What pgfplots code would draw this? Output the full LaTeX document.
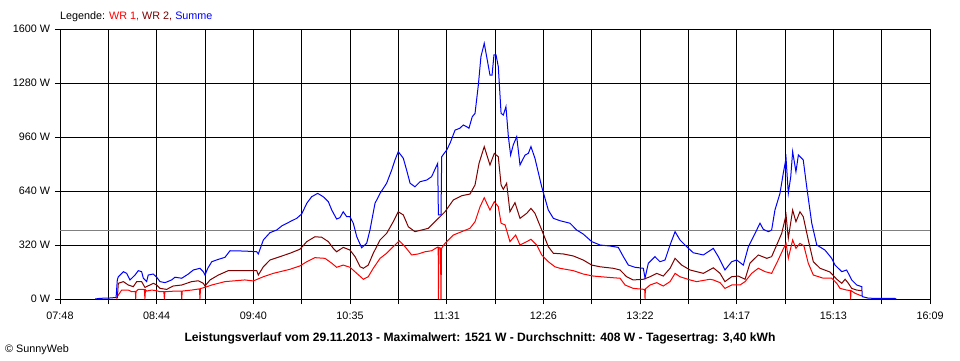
\documentclass[border=0pt]{standalone}
\usepackage{pgfplots}
\pgfplotsset{compat=1.18}
\usepackage{fontspec}
\setmainfont{Liberation Sans}
\definecolor{wrone}{RGB}{255,0,0}
\definecolor{wrtwo}{RGB}{128,0,0}
\definecolor{summe}{RGB}{0,0,255}
\definecolor{avg}{RGB}{128,128,128}
\begin{document}
\begin{tikzpicture}[x=1pt,y=1pt]
\fontsize{10.8}{13}\selectfont
\path[use as bounding box] (0,0) rectangle (960,360);
\begin{axis}[
  at={(60pt,61pt)}, anchor=south west,
  scale only axis, width=870pt, height=270pt,
  xmin=468, xmax=969, ymin=0, ymax=1600,
  xtick={468,523.667,579.333,635,690.667,746.333,802,857.667,913.333,969},
  xticklabels={07:48,08:44,09:40,10:35,11:31,12:26,13:22,14:17,15:13,16:09},
  minor xtick={495.833,551.5,607.167,662.833,718.5,774.167,829.833,885.5,941.167},
  ytick={0,320,640,960,1280,1600},
  yticklabels={0 W,320 W,640 W,960 W,1280 W,1600 W},
  grid=both,
  major grid style={black, line width=1pt},
  minor grid style={black, line width=1pt},
  axis line style={black, line width=1pt},
  tick style={black, line width=1pt},
  tick align=outside,
  major tick length=5pt, minor tick length=5pt,
  xtick pos=bottom, ytick pos=left,
  ticklabel style={font=\fontsize{10.8}{13}\selectfont},
  xticklabel style={yshift=-4pt},
  yticklabel style={xshift=-1pt},
  clip=true,
]
\addplot[avg, line width=1pt] coordinates {(468,408) (969,408)};
% WR 1
\addplot[wrone, line width=1pt] coordinates {
(500.7,0) (501.0,14) (503.5,53) (507.3,53) (509.3,43) (511.4,45) (511.6,0) (511.8,45)
(513.1,57) (516.0,57) (516.6,55) (516.9,0) (517.2,55) (517.9,47) (520.8,53) (523.7,49)
(525.6,43) (527.8,43) (528.1,0) (528.4,43) (534.2,47) (537.8,47) (538.1,0) (538.4,47)
(543.8,53) (548.3,60) (548.6,0) (548.9,62) (551.5,69) (555.4,83) (563.0,103) (574.5,113)
(579.3,107) (585.1,132) (590.8,152) (600.4,176) (606.2,196) (610.1,221) (614.8,245)
(620.6,241) (624.5,212) (627.3,188) (631.1,201) (635.0,188) (638.9,152) (642.7,117)
(645.5,132) (648.4,182) (652.3,241) (656.1,271) (659.9,310) (663.4,345) (666.7,310)
(670.5,261) (674.3,267) (678.2,280) (682.0,286) (685.5,308) (685.8,308) (685.9,0) (686.2,305)
(687.1,302) (687.4,0) (687.7,300) (689.7,330) (694.5,379) (699.3,399) (704.1,419)
(707.0,458) (709.9,547) (712.3,600) (715.6,527) (718.1,577) (720.4,547) (722.0,449)
(724.3,439) (727.1,340) (730.4,379) (732.9,320) (736.8,340) (739.2,354) (742.5,320)
(745.4,261) (749.2,221) (753.0,191) (755.9,182) (763.6,168) (769.3,148) (775.1,136)
(782.8,129) (790.5,123) (793.4,83) (798.1,63) (804.5,57) (804.7,57) (804.9,0) (805.1,60)
(807.8,83) (811.6,97) (815.4,77) (819.3,103) (822.2,152) (825.0,132) (830.8,113)
(834.6,103) (842.3,117) (844.2,113) (848.1,97) (850.9,63) (854.8,83) (859.6,83)
(862.5,103) (866.3,152) (870.1,182) (874.0,162) (877.8,152) (880.7,212) (884.2,290)
(886.1,330) (887.4,241) (889.9,350) (891.8,300) (894.1,330) (896.4,314) (898.9,212)
(901.8,142) (907.6,123) (912.4,123) (915.3,93) (917.2,63) (921.0,53) (923.1,50) (923.3,0)
(923.5,50) (925.8,34) (929.7,18)
};
% WR 2
\addplot[wrtwo, line width=1pt] coordinates {
(501.0,6) (501.6,93) (504.5,103) (507.3,83) (510.2,73) (512.2,103) (515.0,103) (516.9,69)
(519.8,83) (521.7,93) (523.7,83) (525.6,63) (529.4,57) (533.2,77) (538.1,83) (543.8,103)
(547.6,108) (550.5,93) (551.5,77) (554.4,113) (559.2,142) (564.9,168) (574.5,168)
(581.3,168) (582.2,142) (585.1,191) (588.9,231) (594.7,251) (600.4,271) (606.2,295)
(610.1,340) (614.8,369) (618.7,366) (622.5,340) (625.4,300) (627.3,280) (631.1,306)
(635.0,290) (637.9,251) (640.8,191) (642.7,182) (645.5,201) (648.4,271) (652.3,350)
(656.1,389) (659.9,458) (662.8,517) (665.7,498) (668.6,428) (672.4,399) (676.3,409)
(680.1,419) (684.9,468) (689.7,517) (694.5,587) (699.3,612) (704.1,622) (707.0,676)
(709.3,804) (712.3,903) (715.6,794) (718.1,863) (720.4,843) (722.0,676) (723.3,650)
(725.2,686) (727.1,517) (730.0,571) (732.9,478) (736.8,508) (739.2,537) (741.5,508)
(745.4,409) (749.2,310) (752.1,271) (757.8,267) (763.6,255) (769.3,231) (774.2,201)
(779.0,191) (786.6,182) (790.5,172) (794.3,132) (798.1,113) (803.9,117) (807.8,132)
(811.6,152) (815.4,136) (819.3,182) (822.2,241) (826.0,201) (830.8,172) (838.5,152)
(844.2,185) (848.1,152) (850.9,103) (854.8,132) (858.6,136) (862.5,117) (865.3,212)
(870.1,261) (875.0,241) (877.8,251) (880.7,320) (883.6,389) (886.1,498) (887.4,360)
(889.9,527) (891.8,458) (894.1,517) (896.0,488) (898.9,350) (901.8,221) (905.7,182)
(911.4,160) (915.3,117) (918.2,93) (920.1,117) (922.0,93) (923.9,63) (926.8,53) (929.7,49)
};
% Summe
\addplot[summe, line width=1pt] coordinates {
(488.2,0) (491.0,4) (496.8,6) (500.3,9) (501.0,113) (501.6,132) (504.5,162) (506.4,152)
(508.3,113) (511.2,142) (513.1,168) (515.0,162) (516.0,123) (517.9,103) (518.8,142)
(521.7,148) (523.7,129) (525.6,103) (528.5,97) (532.3,113) (534.2,129) (538.1,123)
(541.9,148) (544.8,172) (548.6,182) (550.5,162) (551.5,142) (553.1,182) (555.4,221)
(559.2,235) (563.0,247) (565.9,286) (574.5,284) (581.3,280) (582.2,267) (585.1,350)
(588.9,393) (592.8,409) (595.7,433) (600.4,458) (604.3,478) (607.2,504) (610.1,567)
(612.9,606) (616.4,626) (619.6,606) (622.5,577) (624.5,527) (627.3,474) (629.2,482)
(631.1,517) (633.1,488) (635.0,488) (636.9,449) (638.9,369) (641.7,304) (644.6,330)
(646.5,409) (649.4,567) (652.3,626) (656.1,686) (659.0,764) (660.9,824) (662.8,873)
(665.7,834) (667.6,764) (669.6,686) (672.4,665) (675.3,695) (679.2,705) (682.0,725)
(685.5,804) (685.9,498) (687.4,498) (687.8,843) (690.7,883) (692.6,923) (695.5,1001)
(698.3,1012) (700.2,1031) (702.2,1021) (703.5,1012) (705.4,1080) (707.0,1100)
(708.9,1268) (710.4,1436) (712.3,1515) (713.7,1436) (715.6,1327) (716.8,1327)
(717.9,1446) (719.1,1446) (720.4,1377) (722.0,1100) (723.3,1090) (724.8,1140)
(726.2,962) (727.5,853) (729.0,913) (731.0,962) (732.9,794) (735.8,853) (737.7,863)
(739.2,903) (741.5,834) (745.4,665) (749.2,527) (752.1,478) (755.9,464) (761.7,449)
(765.5,409) (769.3,385) (774.2,340) (779.0,320) (784.7,314) (789.5,306) (792.4,251)
(795.3,201) (799.1,188) (803.9,182) (804.9,124) (806.8,212) (810.6,251) (813.5,221)
(816.4,231) (819.3,320) (822.2,399) (825.0,350) (828.9,310) (832.7,274) (838.5,261)
(844.2,300) (847.1,251) (850.9,172) (854.8,221) (857.7,231) (861.5,201) (864.4,310)
(867.3,369) (871.1,449) (873.0,413) (875.9,399) (877.8,409) (879.7,527) (882.6,626)
(884.5,745) (886.1,834) (887.4,626) (888.8,725) (889.9,873) (891.8,754) (893.2,853)
(896.0,824) (898.0,665) (900.9,449) (903.8,320) (908.5,290) (912.4,241) (914.3,201)
(918.2,162) (921.0,172) (923.9,113) (926.8,83) (929.7,73) (930.0,14) (933.5,5)
(940.2,3) (948.9,3) (949.5,0)
};
\end{axis}
\node[anchor=west, inner sep=0pt] at (60,343) {Legende: \textcolor{wrone}{WR 1,} \textcolor{wrtwo}{WR 2,} \textcolor{summe}{Summe}};
\node[anchor=center, inner sep=0pt] at (480,22) {\fontsize{12.1}{14}\selectfont\bfseries Leistungsverlauf vom 29.11.2013 - Maximalwert: 1521 W - Durchschnitt: 408 W - Tagesertrag: 3,40 kWh};
\node[anchor=west, inner sep=0pt] at (5,10) {\textcopyright\ SunnyWeb};
\end{tikzpicture}
\end{document}
